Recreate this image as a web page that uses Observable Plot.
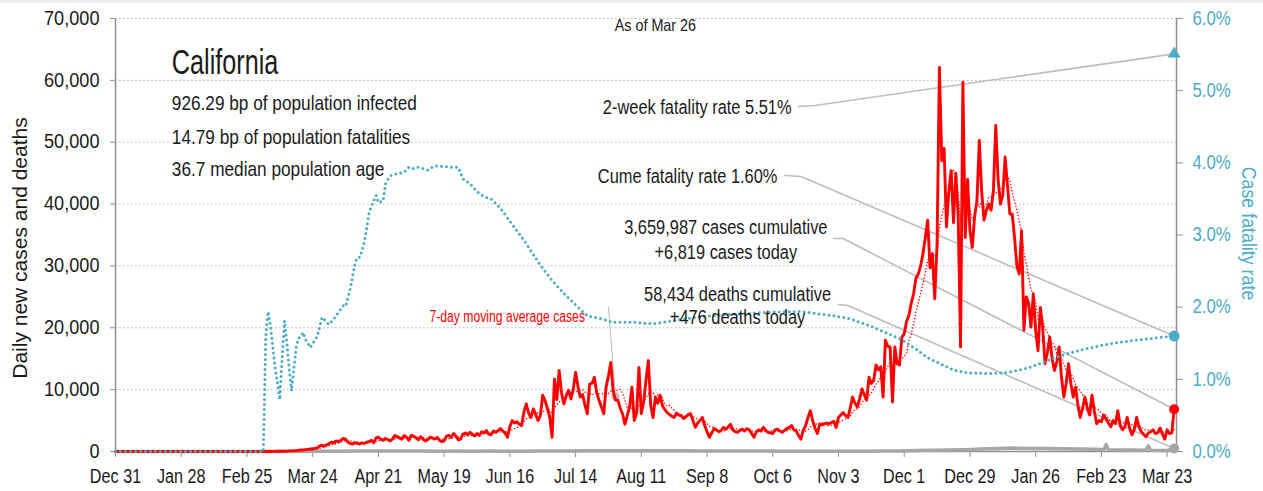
<!DOCTYPE html>
<html><head><meta charset="utf-8">
<script src="https://cdn.jsdelivr.net/npm/d3@7"></script>
<script src="https://cdn.jsdelivr.net/npm/@observablehq/plot@0.6"></script>
<style>
body{margin:0;background:#fff;}
#band{position:absolute;top:0;left:0;width:1263px;height:3px;background:#efefef;}
</style></head><body><div id="chart"></div><div id="band"></div>
<script>
// ---------- data ----------
// daily new cases (thousands), one value per day starting 2019-12-31
const dailyCasesK = [
  // 2019-12-31 .. 2020-02-29
  0,0,0,0,0,0,0,0,0,0, 0,0,0,0,0,0,0,0,0,0, 0,0,0,0,0,0,0,0,0,0,
  0,0,0,0,0,0,0,0,0,0, 0,0,0,0,0,0,0,0,0,0, 0,0,0,0,0,0,0,0,0,0, 0,
  // Mar 2020
  0,0,0,0,0,0.01,0.02,0.02,0.03,0.03, 0.05,0.05,0.06,0.1,0.1,0.12,0.15,0.2,0.25,0.25,
  0.3,0.35,0.4,0.45,0.5,0.6,0.9,1.0,0.9,1.1,1.3,
  // Apr
  1.5,1.4,1.7,1.6,1.8,2.1,2.0,1.5,1.3,1.2, 1.4,1.3,1.2,1.4,1.3,1.5,1.6,1.8,1.4,2.2,
  2.3,2.0,1.8,2.1,1.9,1.7,2.0,2.6,2.4,2.2,
  // May
  2.0,2.6,2.3,1.8,2.6,2.5,2.2,1.9,2.4,2.0, 1.7,1.9,2.3,2.2,2.0,2.3,1.8,1.6,1.7,2.5,
  2.6,2.3,2.9,2.5,1.9,2.0,2.8,3.0,2.7,3.1,2.8,
  // Jun
  2.5,2.9,2.6,3.2,3.0,3.4,2.8,2.7,3.3,3.1, 3.4,3.7,3.3,3.0,2.3,4.0,5.0,4.6,4.8,4.4,
  4.2,6.4,7.7,6.2,5.5,6.9,6.0,5.0,5.8,9.1,
  // Jul
  8.2,7.0,5.5,2.3,11.7,8.4,13.1,9.5,7.7,9.0, 9.9,8.5,10.0,12.8,10.5,8.8,9.2,7.5,6.1,10.9,
  11.0,12.0,9.5,8.3,7.2,6.1,10.4,12.2,14.4,9.8,8.3,
  // Aug
  8.3,7.0,6.1,4.4,5.8,7.2,10.4,5.0,6.2,13.6, 6.1,8.0,11.5,14.7,7.5,5.5,8.8,7.8,9.1,7.4,
  6.8,6.3,6.0,5.7,5.5,6.2,5.9,5.8,5.3,5.6,6.0,
  // Sep
  6.1,5.0,3.9,4.6,5.0,5.5,4.2,3.2,2.3,3.0, 3.7,3.5,3.2,3.4,3.9,3.6,4.0,4.4,3.5,3.2,
  3.1,3.4,3.6,3.3,3.7,3.5,2.9,2.3,3.2,3.5,
  // Oct
  3.3,3.9,3.4,3.1,3.0,2.9,3.5,3.6,3.3,3.1, 3.4,3.7,3.9,4.2,3.5,3.3,2.6,2.0,3.4,4.2,
  5.5,6.6,5.0,3.8,2.9,4.4,4.3,4.5,4.6,4.5,4.7,
  // Nov
  4.9,3.9,5.5,5.9,6.3,5.8,5.5,7.0,8.8,7.8, 7.2,8.5,10.1,9.2,8.3,12.0,11.0,11.5,14.0,13.2,
  13.7,8.8,18.0,17.0,16.9,8.0,16.9,14.2,14.0,18.5,
  // Dec
  19.0,21.0,22.0,24.0,25.5,28.0,28.7,30.0,32.0,34.6, 37.4,29.7,32.0,24.7,33.5,62.1,47.0,49.0,36.3,42.0,
  45.4,37.0,45.0,38.0,16.9,59.7,34.6,44.0,35.7,33.0,38.0,
  // Jan 2021
  40.6,50.3,42.0,37.4,39.0,40.0,39.0,42.2,52.7,44.0, 40.0,41.5,47.6,43.0,38.4,38.4,34.6,30.0,28.7,35.7,
  19.6,25.0,24.0,20.1,25.5,19.5,16.3,23.3,20.0,14.2,16.0,
  // Feb
  18.5,15.0,13.1,14.5,16.9,12.0,8.8,11.0,14.2,11.0, 8.8,10.4,7.5,5.5,7.0,8.8,7.0,5.9,9.1,6.5,
  4.5,5.0,4.8,5.9,5.2,4.6,4.0,5.0,
  // Mar 2021 (to Mar 26)
  4.5,6.6,4.2,3.5,4.0,5.5,3.8,2.7,3.5,5.5, 4.0,3.2,2.8,2.4,3.0,3.2,3.5,2.9,3.0,3.8,
  2.8,2.0,3.5,2.9,3.0,6.819
];

// daily deaths (thousands)
const deathDates = ["2019-12-31","2020-03-01","2020-03-15","2020-03-29","2020-04-05","2020-04-12","2020-04-19","2020-04-26",
  "2020-05-03","2020-05-10","2020-05-17","2020-05-24","2020-05-31","2020-06-07","2020-06-14","2020-06-21","2020-06-28",
  "2020-07-05","2020-07-12","2020-07-19","2020-07-26","2020-08-02","2020-08-09","2020-08-16","2020-08-23","2020-08-30",
  "2020-09-06","2020-09-13","2020-09-20","2020-09-27","2020-10-04","2020-10-11","2020-10-18","2020-10-25","2020-11-01",
  "2020-11-08","2020-11-15","2020-11-22","2020-11-29","2020-12-06","2020-12-13","2020-12-20","2020-12-27","2021-01-03",
  "2021-01-10","2021-01-17","2021-01-24","2021-01-31","2021-02-07","2021-02-14","2021-02-21","2021-02-24","2021-02-25",
  "2021-02-26","2021-03-07","2021-03-14","2021-03-15","2021-03-16","2021-03-23","2021-03-26"];
const deathValuesK = [0,0,0.01,0.04,0.06,0.07,0.09,0.07,
  0.08,0.07,0.06,0.07,0.06,0.07,0.06,0.05,0.07,
  0.08,0.1,0.12,0.14,0.13,0.14,0.12,0.13,0.11,
  0.1,0.09,0.08,0.07,0.07,0.06,0.06,0.05,0.05,
  0.05,0.06,0.08,0.1,0.16,0.2,0.25,0.3,0.4,
  0.5,0.55,0.5,0.5,0.45,0.4,0.35,0.3,1.1,
  0.3,0.25,0.2,0.9,0.2,0.15,0.476];

// case fatality rate (%)
const cfrDates = ["2019-12-31","2020-03-03","2020-03-04","2020-03-05","2020-03-06","2020-03-07","2020-03-08","2020-03-09",
  "2020-03-10","2020-03-11","2020-03-12","2020-03-13","2020-03-14","2020-03-15","2020-03-16","2020-03-17","2020-03-18",
  "2020-03-19","2020-03-20","2020-03-21","2020-03-23","2020-03-26","2020-03-28","2020-03-31","2020-04-03","2020-04-06",
  "2020-04-07","2020-04-09","2020-04-11","2020-04-12","2020-04-13","2020-04-14","2020-04-15","2020-04-16","2020-04-17",
  "2020-04-18","2020-04-20","2020-04-21","2020-04-23","2020-04-24","2020-04-26","2020-04-29","2020-05-02","2020-05-04",
  "2020-05-06","2020-05-08","2020-05-10","2020-05-12","2020-05-14","2020-05-16","2020-05-19","2020-05-22","2020-05-25",
  "2020-05-27","2020-05-30","2020-06-03","2020-06-06","2020-06-08","2020-06-12","2020-06-23","2020-06-29","2020-07-04",
  "2020-07-09","2020-07-15","2020-07-19","2020-07-25","2020-07-30","2020-08-08","2020-08-16","2020-08-22","2020-09-05",
  "2020-09-19","2020-10-04","2020-10-18","2020-11-01","2020-11-08","2020-11-18","2020-11-25","2020-11-30","2020-12-06",
  "2020-12-11","2020-12-16","2020-12-22","2020-12-28","2021-01-06","2021-01-12","2021-01-18","2021-01-23","2021-01-28",
  "2021-02-03","2021-02-09","2021-02-16","2021-02-23","2021-03-02","2021-03-09","2021-03-17","2021-03-26"];
const cfrValues = [0,0,1.6,1.94,1.75,1.45,1.15,0.95,
  0.72,1.3,1.81,1.5,1.15,0.84,1.15,1.45,1.57,
  1.6,1.65,1.55,1.44,1.6,1.86,1.76,1.88,2.02,
  2.01,2.25,2.6,2.69,2.69,2.78,2.9,3.09,3.3,
  3.4,3.55,3.45,3.47,3.71,3.82,3.85,3.87,3.94,
  3.92,3.94,3.92,3.9,3.94,3.96,3.95,3.94,3.94,
  3.78,3.71,3.57,3.52,3.5,3.37,2.88,2.58,2.37,
  2.19,2.0,1.88,1.84,1.79,1.79,1.77,1.8,1.87,
  1.9,1.93,1.94,1.88,1.84,1.72,1.62,1.55,1.42,
  1.3,1.22,1.13,1.09,1.08,1.09,1.12,1.16,1.22,
  1.3,1.36,1.42,1.47,1.51,1.54,1.57,1.60];

const twoWeekRate = 5.51;
const xTickDates = ["2019-12-31","2020-01-28","2020-02-25","2020-03-24","2020-04-21","2020-05-19","2020-06-16",
  "2020-07-14","2020-08-11","2020-09-08","2020-10-06","2020-11-03","2020-12-01","2020-12-29","2021-01-26",
  "2021-02-23","2021-03-23"];
const yTicks = [0,10000,20000,30000,40000,50000,60000,70000];
const rateTicks = [0,1,2,3,4,5,6];

const title = "California";
const stats = ["926.29 bp of population infected","14.79 bp of population fatalities","36.7 median population age"];
const asOf = "As of Mar 26";
const noteTwoWeek = "2-week fatality rate 5.51%";
const noteCume = "Cume fatality rate 1.60%";
const noteCases = ["3,659,987 cases cumulative","+6,819 cases today"];
const noteDeaths = ["58,434 deaths cumulative","+476 deaths today"];
const noteAvg = "7-day moving average cases";
const yLabelLeft = "Daily new cases and deaths";
const yLabelRight = "Case fatality rate";

// ---------- build ----------
const parse = d3.utcParse("%Y-%m-%d");
const start = parse("2019-12-31");
const K = 70000 / 6; // right-axis (percent) to left-axis units
const caseRows = dailyCasesK.map((v, i) => ({date: d3.utcDay.offset(start, i), cases: v * 1000}));
const deathRows = deathDates.map((d, i) => ({date: parse(d), deaths: deathValuesK[i] * 1000}));
const cfrRows = cfrDates.map((d, i) => ({date: parse(d), rate: cfrValues[i]}));
const lastCase = caseRows[caseRows.length - 1];
const lastDate = lastCase.date;
const endDate = d3.utcDay.offset(lastDate, 1);

const FONT = '"Liberation Sans",Arial,sans-serif';
const axisGray = "#8f8f8f", leader = "#bdbdbd", blue = "#4BACC6", red = "#FF0000", deathGray = "#A6A6A6", ink = "#1a1a1a";

const pt = (date, v) => ({date: parse(date), v});
const leaderLine = pts => Plot.line(pts, {x: "date", y: "v", stroke: leader, strokeWidth: 1.6, curve: "linear"});
const label = (txt, date, v, opts) => Plot.text([txt], {x: () => parse(date), y: () => v, text: d => d,
  lineAnchor: "bottom", fill: ink, fontSize: 20, ...opts});

const chart = Plot.plot({
  width: 1263, height: 491,
  marginLeft: 115, marginRight: 87, marginTop: 18, marginBottom: 40,
  style: {fontFamily: FONT, fontSize: "20px", color: ink, background: "white", overflow: "visible"},
  x: {type: "utc", domain: [start, endDate]},
  y: {domain: [0, 70000]},
  marks: [
    Plot.gridY(yTicks.slice(1), {stroke: "#b0b0b0", strokeOpacity: 1, strokeWidth: 1, strokeDasharray: "1.5,2.5"}),
    Plot.axisY(yTicks, {tickSize: 5, tickPadding: 11, tickFormat: d3.format(","), stroke: axisGray, fill: ink, label: null, fontSize: 19.5}),
    Plot.axisY(rateTicks.map(t => t * K), {anchor: "right", tickSize: 6, tickPadding: 10,
      tickFormat: d => (d / K).toFixed(1) + "%", stroke: axisGray, fill: blue, label: null, fontSize: 19.5}),
    Plot.axisX(xTickDates.map(parse), {tickSize: 6, tickPadding: 12, tickFormat: d3.utcFormat("%b %-d"),
      stroke: axisGray, fill: ink, label: null, fontSize: 19.5}),
    Plot.ruleX([start, endDate], {stroke: axisGray, strokeWidth: 1.5}),
    Plot.ruleY([0], {stroke: axisGray, strokeWidth: 1.5}),

    // axis titles
    Plot.text([yLabelLeft], {frameAnchor: "left", text: d => d, rotate: -90, dx: -95, dy: 13,
      lineAnchor: "middle", textAnchor: "middle", fontSize: 21, fill: ink}),
    Plot.text([yLabelRight], {frameAnchor: "right", text: d => d, rotate: 90, dx: 71.5, dy: -1.5,
      lineAnchor: "middle", textAnchor: "middle", fontSize: 20, fill: blue}),

    // leader lines
    leaderLine([pt("2020-10-17", 55770), pt("2020-10-24", 55940), {date: lastDate, v: twoWeekRate * K}]),
    leaderLine([pt("2020-10-11", 44620), pt("2020-10-18", 44460), {date: lastDate, v: cfrRows[cfrRows.length - 1].rate * K}]),
    leaderLine([pt("2020-11-01", 34430), pt("2020-11-05", 34430), {date: lastDate, v: lastCase.cases}]),
    leaderLine([pt("2020-11-03", 23760), pt("2020-11-07", 23600), {date: lastDate, v: deathRows[deathRows.length - 1].deaths}]),
    Plot.line([pt("2020-07-28", 23280), pt("2020-07-31", 8940)], {x: "date", y: "v", stroke: leader, strokeWidth: 1}),
    Plot.dot([pt("2020-07-31", 8940)], {x: "date", y: "v", r: 4, fill: leader}),

    // series
    Plot.line(deathRows, {x: "date", y: "deaths", stroke: deathGray, strokeWidth: 3.5}),
    Plot.line(caseRows, {x: "date", y: "cases", stroke: red, strokeWidth: 2.9}),
    Plot.line(caseRows, Plot.windowY({k: 7, anchor: "end"}, {x: "date", y: "cases", stroke: red, strokeWidth: 1.6, strokeDasharray: "0,3.2"})),
    Plot.line(cfrRows, {x: "date", y: d => d.rate * K, stroke: blue, strokeWidth: 3, strokeDasharray: "0,5"}),

    // end markers
    Plot.dot([lastCase], {x: "date", y: "cases", r: 5, fill: red}),
    Plot.dot([deathRows[deathRows.length - 1]], {x: "date", y: "deaths", r: 5, fill: deathGray}),
    Plot.dot([cfrRows[cfrRows.length - 1]], {x: "date", y: d => d.rate * K, r: 5.5, fill: blue}),
    Plot.dot([twoWeekRate], {x: () => lastDate, y: d => d * K, symbol: "triangle", r: 4.8, fill: blue}),

    // texts
    label(title, "2020-01-24", 61100, {textAnchor: "start", fontSize: 35}),
    Plot.text(stats, {x: () => parse("2020-01-24"), y: (d, i) => [55130, 49790, 44460][i], text: d => d,
      textAnchor: "start", lineAnchor: "bottom", fontSize: 21, fill: ink}),
    label(asOf, "2020-08-17", 68060, {textAnchor: "middle", fontSize: 16.5}),
    label(noteTwoWeek, "2020-10-14", 54640, {textAnchor: "end"}),
    label(noteCume, "2020-10-08", 43330, {textAnchor: "end"}),
    label(noteCases[0], "2020-09-16", 35240, {textAnchor: "middle"}),
    label(noteCases[1], "2020-09-16", 31200, {textAnchor: "middle"}),
    label(noteDeaths[0], "2020-09-21", 24410, {textAnchor: "middle"}),
    label(noteDeaths[1], "2020-09-21", 20690, {textAnchor: "middle"}),
    label(noteAvg, "2020-07-18", 20900, {textAnchor: "end", fontSize: 16, fill: red})
  ]
});
document.getElementById("chart").appendChild(chart);

// condensed look: narrow each text horizontally (no condensed font is installed)
const narrowOf = (t, el) => {
  if (t === title) return 0.72;
  if (t === yLabelLeft) return 1.0;
  if (t === yLabelRight) return 0.89;
  if (t === asOf) return 0.87;
  if (t === noteAvg) return 0.76;
  const g = el.closest("g[aria-label]");
  const aria = g ? g.getAttribute("aria-label") : "";
  if (aria.includes("x-axis")) return 0.83;
  if (aria.includes("y-axis")) return t.endsWith("%") ? 0.86 : 0.93;
  return 0.82;
};
chart.querySelectorAll("text").forEach(el => {
  const t = el.textContent;
  if (!t) return;
  const w = el.getComputedTextLength();
  const f = narrowOf(t, el);
  if (f < 1) {
    el.setAttribute("textLength", (w * f).toFixed(2));
    el.setAttribute("lengthAdjust", "spacingAndGlyphs");
  }
});
</script></body></html>
